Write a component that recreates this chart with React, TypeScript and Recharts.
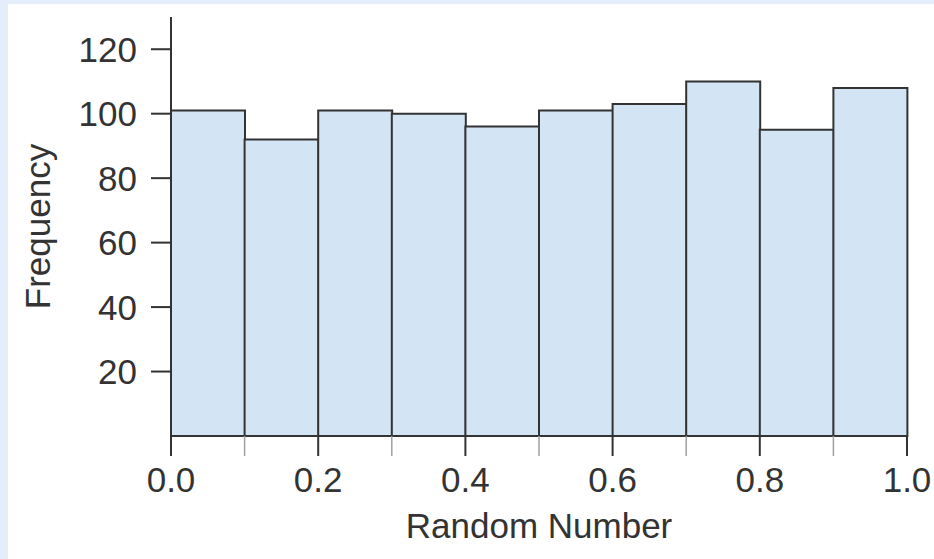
import React from 'react';
import { BarChart, Bar, XAxis, YAxis } from 'recharts';

const binCenters = [0.05, 0.15, 0.25, 0.35, 0.45, 0.55, 0.65, 0.75, 0.85, 0.95];
const frequencies = [101, 92, 101, 100, 96, 101, 103, 110, 95, 108];
const xTicks = [0, 0.1, 0.2, 0.3, 0.4, 0.5, 0.6, 0.7, 0.8, 0.9, 1.0];
const yTicks = [20, 40, 60, 80, 100, 120];

const data = binCenters.map((mid, i) => ({ mid, freq: frequencies[i] }));

const FONT = '"Liberation Sans", Arial, Helvetica, sans-serif';
const TEXT = '#333333';

const XTick = (props: any) => {
  const { x, y, payload } = props;
  const v = payload.value as number;
  const major = Math.round(v * 10) % 2 === 0;
  return (
    <g>
      <line x1={x} x2={x} y1={y - 20} y2={y} stroke={major ? '#333333' : '#a0a0a0'} strokeWidth={major ? 2 : 1.5} />
      {major && (
        <text x={x} y={y + 36} textAnchor="middle" fill={TEXT} fontSize={35} fontFamily={FONT}>
          {v.toFixed(1)}
        </text>
      )}
    </g>
  );
};

export default function App() {
  return (
    <div style={{ position: 'absolute', left: 0, top: 0, width: 934, height: 559, background: '#e4eefb' }}>
      <div style={{ position: 'absolute', left: 8, top: 4, width: 926, height: 555, background: '#ffffff' }} />
      <div style={{ position: 'absolute', left: 0, top: 0 }}>
        <BarChart
          width={934}
          height={559}
          data={data}
          margin={{ top: 17, right: 27, bottom: 0, left: 0 }}
          barCategoryGap={0}
          barGap={0}
          style={{ fontFamily: FONT }}
        >
          <XAxis
            dataKey="mid"
            type="number"
            domain={[0, 1]}
            ticks={xTicks}
            interval={0}
            height={123}
            axisLine={{ stroke: '#333333', strokeWidth: 2 }}
            tickLine={false}
            tickSize={20}
            tickMargin={0}
            tick={<XTick />}
            label={{ value: 'Random Number', position: 'insideBottom', offset: 21, fill: TEXT, fontSize: 35, fontFamily: FONT }}
          />
          <YAxis
            width={171}
            domain={[0, 130]}
            ticks={yTicks}
            interval={0}
            axisLine={{ stroke: '#333333', strokeWidth: 2 }}
            tickLine={{ stroke: '#333333', strokeWidth: 2 }}
            tickSize={20}
            tickMargin={14}
            tick={{ fill: TEXT, fontSize: 35, fontFamily: FONT }}
            label={{ value: 'Frequency', angle: -90, position: 'insideLeft', offset: 38, fill: TEXT, fontSize: 35, fontFamily: FONT, style: { textAnchor: 'middle' } }}
          />
          <Bar
            dataKey="freq"
            fill="#d3e4f5"
            stroke="#333333"
            strokeWidth={2}
            isAnimationActive={false}
          />
        </BarChart>
      </div>
    </div>
  );
}
